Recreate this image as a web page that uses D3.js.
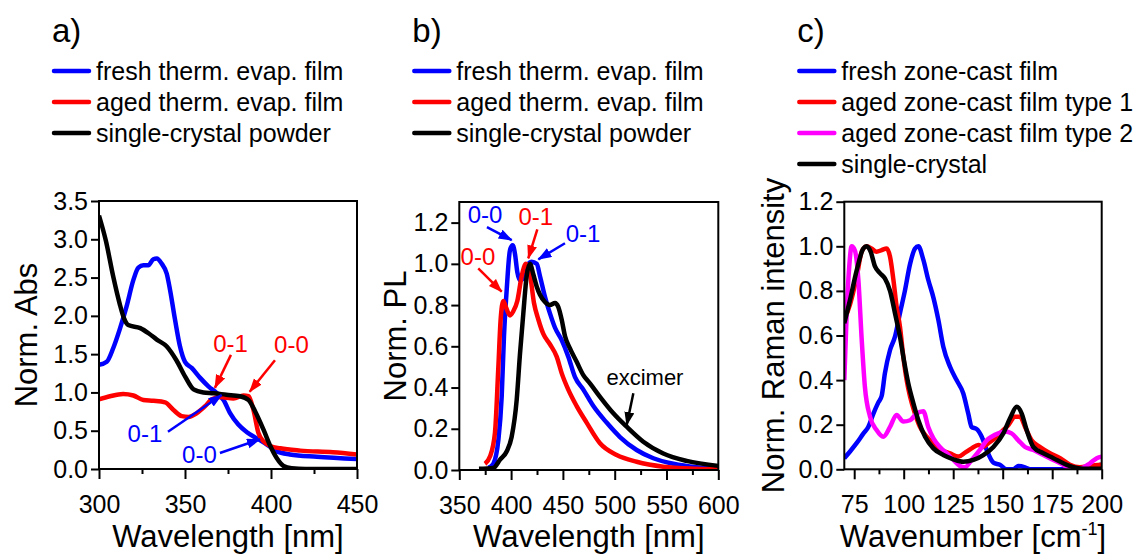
<!DOCTYPE html>
<html>
<head>
<meta charset="utf-8">
<script src="https://cdn.jsdelivr.net/npm/d3@7"></script>
<style>
  body { margin: 0; background: #fff; }
  svg { display: block; font-family: "Liberation Sans", Arial, sans-serif; }
  .tick text { font-size: 25px; fill: #000; }
  .tick line { stroke: #000; stroke-width: 2px; }
</style>
</head>
<body>
<div id="chart"></div>
<script>
// ---- data ----
// panel a: absorption, [wavelength nm, norm. abs]
let absFresh = [[300,1.36],[304.5,1.40],[308.3,1.58],[312,1.82],[316,2.12],[320,2.47],[322.9,2.63],[325.8,2.66],[328.7,2.66],[331.6,2.74],[333.6,2.75],[336.5,2.68],[339.4,2.55],[341.3,2.34],[344.2,1.95],[347.1,1.60],[350,1.40],[353.9,1.32],[358.8,1.19],[363.6,1.08],[368.5,0.99],[372.4,0.90],[376.2,0.73],[381,0.58],[386,0.48],[391.8,0.40],[397.6,0.32],[403.4,0.23],[411,0.19],[426.7,0.16],[450,0.13]]
let absAged = [[300,0.91],[306.4,0.95],[314,0.98],[320,0.96],[325.8,0.90],[331.6,0.89],[338.4,0.87],[343.3,0.77],[348.1,0.69],[352,0.68],[356.9,0.73],[361.7,0.82],[365.6,0.91],[370.4,0.94],[378.2,0.92],[384,0.96],[387,0.95],[389.8,0.77],[392.7,0.47],[395.7,0.36],[399.6,0.30],[405.4,0.27],[417,0.24],[436,0.22],[450,0.19]]
let absCrystal = [[300,3.31],[304,2.98],[308.3,2.51],[312,2.16],[314.5,1.97],[317,1.88],[324,1.84],[329,1.77],[333.6,1.69],[339.4,1.60],[345,1.42],[350,1.21],[355,1.04],[360.7,1.0],[366.5,0.99],[374,0.97],[382,0.95],[387,0.9],[390.8,0.75],[395.7,0.51],[399.6,0.30],[403.4,0.14],[407.3,0.04],[412,0.01],[420,0],[450,0]]

// panel b: photoluminescence, [wavelength nm, norm. PL]
let plFresh = [[378,0.01],[382.8,0.03],[387.7,0.145],[390.9,0.355],[393.1,0.646],[395.7,0.87],[398.9,1.066],[401.5,1.09],[403.7,1.05],[406,0.96],[408.6,0.92],[411.8,0.93],[415,0.985],[419.8,1.01],[424.7,1.0],[427.9,0.94],[432.7,0.84],[437.5,0.76],[442.4,0.69],[448.8,0.63],[455.2,0.55],[461.7,0.45],[469.7,0.39],[479.4,0.31],[492.2,0.23],[505.1,0.16],[521.2,0.097],[537.3,0.057],[556.6,0.03],[579,0.013],[600,0.006]]
let plAged = [[374.8,0.03],[379.6,0.065],[384.4,0.18],[387.7,0.5],[389.9,0.73],[392.5,0.82],[395,0.79],[398.9,0.75],[402.1,0.77],[406,0.82],[410.2,0.94],[414.4,1.0],[418.2,0.95],[422.1,0.81],[426.3,0.73],[431.1,0.66],[437.5,0.61],[444,0.55],[448.8,0.47],[455.2,0.39],[463.3,0.31],[472.9,0.23],[485.8,0.13],[501.9,0.073],[521.2,0.04],[546.9,0.016],[579,0.006],[600,0.003]]
let plCrystal = [[369,0.006],[382.8,0.01],[389.3,0.05],[395.7,0.09],[400.5,0.16],[405.4,0.34],[408.6,0.565],[411.8,0.76],[415,0.94],[418.2,1.0],[421.4,0.95],[424.7,0.89],[427.9,0.85],[432.7,0.815],[437.5,0.80],[442.4,0.81],[445.6,0.79],[448.8,0.73],[452,0.65],[456.8,0.59],[463.3,0.525],[469.7,0.46],[476.1,0.42],[485.8,0.355],[498.7,0.275],[511.5,0.21],[527.6,0.137],[546.9,0.08],[569.4,0.044],[600,0.02]]

// panel c: Raman, [wavenumber cm-1, norm. intensity]
let ramanFresh = [[70,0.05],[72.9,0.08],[76.2,0.117],[79.6,0.16],[82.1,0.19],[84.7,0.25],[87.2,0.30],[88.9,0.33],[90.5,0.43],[93.1,0.535],[95.6,0.595],[98.1,0.70],[100.6,0.80],[103.2,0.92],[105.7,0.99],[107.4,1.0],[109.9,0.94],[112.4,0.85],[115,0.77],[117.5,0.67],[120,0.55],[123.4,0.46],[126.7,0.40],[130.1,0.34],[132.6,0.25],[134.3,0.19],[136.9,0.18],[139.4,0.146],[141.9,0.087],[145.3,0.03],[148.6,0.02],[152,0],[155.4,0],[157.9,0.015],[161.3,0.009],[163.8,0],[175,0],[190,0],[197,0.005],[200,0.025]]
let ramanAged1 = [[70,0.67],[72.9,0.74],[76.2,0.86],[78.8,0.976],[81.3,1.0],[83.8,0.99],[86.3,0.976],[88.9,0.983],[91.4,0.99],[93.1,0.953],[94.8,0.85],[96.4,0.73],[98.1,0.64],[99.8,0.505],[101.5,0.40],[103.2,0.326],[105.7,0.25],[108.2,0.19],[111.6,0.146],[115,0.117],[118.3,0.09],[123.4,0.072],[127.6,0.057],[131,0.075],[134.3,0.094],[137.7,0.109],[140.2,0.10],[142.7,0.117],[146.1,0.139],[149.5,0.169],[152.9,0.199],[156.2,0.236],[158.7,0.236],[161.3,0.19],[164.6,0.13],[168.9,0.10],[173.9,0.072],[179,0.05],[184,0.02],[189,0.009],[194.1,0.015],[200,0.02]]
let ramanAged2 = [[70,0.40],[71.2,0.70],[72.5,0.91],[73.7,1.0],[75.4,0.98],[77.1,0.85],[78.8,0.58],[80.4,0.37],[83,0.236],[86.3,0.176],[89.7,0.146],[93.1,0.19],[96.4,0.244],[99.8,0.214],[103.2,0.22],[106.5,0.25],[109.9,0.26],[112.4,0.19],[115,0.139],[118.3,0.10],[121.7,0.072],[125.1,0.042],[128.4,0.015],[131,0.009],[134.3,0.042],[138.5,0.087],[141.9,0.13],[144.4,0.146],[147.8,0.161],[151.2,0.169],[154.5,0.161],[157.9,0.13],[161.3,0.10],[165.5,0.087],[170.5,0.064],[175.6,0.042],[180.6,0.02],[185.7,0],[189.9,0.005],[194.1,0.027],[197.5,0.05],[200,0.057]]
let ramanCrystal = [[70,0.655],[72.9,0.76],[76.2,0.89],[79.6,0.99],[81.3,1.0],[83.3,0.976],[85.5,0.91],[88,0.88],[90.5,0.856],[93.1,0.80],[95.6,0.70],[98.1,0.595],[100.1,0.49],[102.3,0.386],[104.9,0.296],[107.4,0.22],[110.8,0.146],[115,0.094],[120,0.064],[125.1,0.045],[130.1,0.034],[135.2,0.042],[140.2,0.064],[145.3,0.10],[150.3,0.161],[153.7,0.229],[157.1,0.28],[159.6,0.25],[162.1,0.176],[165.5,0.10],[170.5,0.072],[175.6,0.05],[180.6,0.027],[185.7,0.009],[190.7,0.003],[200,0.003]]

// tick labels
let absXTicks = [300, 350, 400, 450]
let absXMinor = [325, 375, 425]
let absYTicks = [0, 0.5, 1.0, 1.5, 2.0, 2.5, 3.0, 3.5]
let plXTicks = [350, 400, 450, 500, 550, 600]
let plXMinor = [375, 425, 475, 525, 575]
let plYTicks = [0, 0.2, 0.4, 0.6, 0.8, 1.0, 1.2]
let ramanXTicks = [75, 100, 125, 150, 175, 200]
let ramanXMinor = [87.5, 112.5, 137.5, 162.5, 187.5]
let ramanYTicks = [0, 0.2, 0.4, 0.6, 0.8, 1.0, 1.2]

// legend entries
let absNames = ['fresh therm. evap. film', 'aged therm. evap. film', 'single-crystal powder']
let plNames = ['fresh therm. evap. film', 'aged therm. evap. film', 'single-crystal powder']
let ramanNames = ['fresh zone-cast film', 'aged zone-cast film type 1', 'aged zone-cast film type 2', 'single-crystal']

// peak labels: text pos + arrow from/to, all in data units
let absNotes = [
  {t: '0-1', c: 'red',  tx: 376.5, ty: 1.53, x1: 376.7, y1: 1.49, x2: 367.4, y2: 1.06},
  {t: '0-0', c: 'red',  tx: 411.9, ty: 1.515, x1: 402.3, y1: 1.42, x2: 387.6, y2: 1.01},
  {t: '0-1', c: 'blue', tx: 326.7, ty: 0.357, x1: 340.1, y1: 0.487, x2: 371.3, y2: 0.966},
  {t: '0-0', c: 'blue', tx: 358.4, ty: 0.078, x1: 370.3, y1: 0.209, x2: 393.6, y2: 0.388}
]
let plNotes = [
  {t: '0-0', c: 'blue', tx: 374.8, ty: 1.196, x1: 376.7, y1: 1.178, x2: 400.6, y2: 1.115},
  {t: '0-1', c: 'red',  tx: 423.8, ty: 1.188, x1: 425.3, y1: 1.167, x2: 416.6, y2: 1.027},
  {t: '0-1', c: 'blue', tx: 469.4, ty: 1.107, x1: 452, y1: 1.10, x2: 426.3, y2: 1.022},
  {t: '0-0', c: 'red',  tx: 368, ty: 0.994, x1: 368.3, y1: 0.978, x2: 390.9, y2: 0.865},
  {t: 'excimer', c: 'black', tx: 529.2, ty: 0.412, x1: 518, y1: 0.372, x2: 511.6, y2: 0.218, small: true}
]

let width = 1136, height = 556

let svg = d3.select('#chart').append('svg')
  .attr('width', width)
  .attr('height', height)

let defs = svg.append('defs')
;['red', 'blue', 'black'].forEach(function(c) {
  defs.append('marker')
    .attr('id', 'arrow-' + c)
    .attr('markerUnits', 'userSpaceOnUse')
    .attr('markerWidth', 14).attr('markerHeight', 12)
    .attr('refX', 13).attr('refY', 5)
    .attr('orient', 'auto')
    .append('path')
    .attr('d', 'M0,0 L14,5 L0,10 Z')
    .attr('fill', c)
})

const drawPanel = function(p) {
  let x = d3.scaleLinear().domain(p.xDomain).range([p.left, p.right])
  let y = d3.scaleLinear().domain(p.yDomain).range([p.bottom, p.top])

  let g = svg.append('g')

  // panel letter
  g.append('text')
    .attr('x', p.left - 47).attr('y', 42)
    .attr('font-size', '33px')
    .text(p.letter)

  // legend
  let leg = g.selectAll('.leg').data(p.names).enter().append('g')
  leg.append('line')
    .attr('x1', p.left - 45).attr('x2', p.left - 10)
    .attr('y1', (d, i) => 71 + i * 31).attr('y2', (d, i) => 71 + i * 31)
    .attr('stroke', (d, i) => p.colors[i])
    .attr('stroke-width', 4.5)
    .attr('stroke-linecap', 'round')
  leg.append('text')
    .attr('x', p.left - 3)
    .attr('y', (d, i) => 80 + i * 31)
    .attr('font-size', '25px')
    .text(d => d)

  // axes
  let xAxis = d3.axisBottom(x).tickValues(p.xTicks).tickSize(10).tickPadding(16).tickFormat(d3.format('d'))
  let xMinor = d3.axisBottom(x).tickValues(p.xMinor).tickSize(5).tickFormat('')
  let yAxis = d3.axisLeft(y).tickValues(p.yTicks).tickSize(8).tickPadding(3).tickFormat(d3.format('.1f'))

  g.append('g').attr('transform', 'translate(0,' + p.bottom + ')').call(xAxis)
    .call(s => s.select('.domain').remove())
  g.append('g').attr('transform', 'translate(0,' + p.bottom + ')').call(xMinor)
    .call(s => s.select('.domain').remove())
  g.append('g').attr('transform', 'translate(' + p.left + ',0)').call(yAxis)
    .call(s => s.select('.domain').remove())

  // curves
  let clipId = 'clip-' + p.letter[0]
  defs.append('clipPath').attr('id', clipId)
    .append('rect')
    .attr('x', p.left).attr('y', p.top)
    .attr('width', p.right - p.left).attr('height', p.bottom - p.top)

  let line = d3.line()
    .x(d => x(d[0]))
    .y(d => y(d[1]))
    .curve(d3.curveMonotoneX)

  g.append('g').attr('clip-path', 'url(#' + clipId + ')')
    .selectAll('path')
    .data(p.order)
    .enter().append('path')
    .attr('d', i => line(p.series[i]))
    .attr('fill', 'none')
    .attr('stroke', i => p.colors[i])
    .attr('stroke-width', 4.5)
    .attr('stroke-linejoin', 'round')

  // frame
  g.append('rect')
    .attr('x', p.left).attr('y', p.top)
    .attr('width', p.right - p.left).attr('height', p.bottom - p.top)
    .attr('fill', 'none')
    .attr('stroke', '#000')
    .attr('stroke-width', 2)

  // annotations
  let notes = g.selectAll('.note').data(p.notes || []).enter().append('g')
  notes.append('text')
    .attr('x', d => x(d.tx)).attr('y', d => y(d.ty))
    .attr('text-anchor', 'middle')
    .attr('font-size', d => d.small ? '22px' : '24px')
    .attr('fill', d => d.c)
    .text(d => d.t)
  notes.append('line')
    .attr('x1', d => x(d.x1)).attr('y1', d => y(d.y1))
    .attr('x2', d => x(d.x2)).attr('y2', d => y(d.y2))
    .attr('stroke', d => d.c)
    .attr('stroke-width', 2.5)
    .attr('marker-end', d => 'url(#arrow-' + d.c + ')')

  // axis titles
  let xt = g.append('text')
    .attr('x', (p.left + p.right) / 2).attr('y', 547)
    .attr('text-anchor', 'middle')
    .attr('font-size', '31px')
  if (p.xSup) {
    xt.append('tspan').text(p.xTitle)
    xt.append('tspan').attr('dy', -12).attr('font-size', '18px').text(p.xSup)
    xt.append('tspan').attr('dy', 12).text(']')
  } else {
    xt.text(p.xTitle)
  }

  g.append('text')
    .attr('transform', 'translate(' + p.yTitleX + ',' + (p.top + p.bottom) / 2 + ') rotate(-90)')
    .attr('text-anchor', 'middle')
    .attr('font-size', '31px')
    .text(p.yTitle)
}

drawPanel({
  letter: 'a)', left: 99, right: 357, top: 201, bottom: 469,
  xDomain: [300, 450], yDomain: [0, 3.5],
  xTicks: absXTicks, xMinor: absXMinor, yTicks: absYTicks,
  names: absNames, colors: ['blue', 'red', 'black'],
  series: [absFresh, absAged, absCrystal], order: [0, 1, 2],
  notes: absNotes,
  xTitle: 'Wavelength [nm]', yTitle: 'Norm. Abs', yTitleX: 37
})

drawPanel({
  letter: 'b)', left: 459.3, right: 718.3, top: 202, bottom: 470,
  xDomain: [350, 600], yDomain: [0, 1.3],
  xTicks: plXTicks, xMinor: plXMinor, yTicks: plYTicks,
  names: plNames, colors: ['blue', 'red', 'black'],
  series: [plFresh, plAged, plCrystal], order: [0, 1, 2],
  notes: plNotes,
  xTitle: 'Wavelength [nm]', yTitle: 'Norm. PL', yTitleX: 406
})

drawPanel({
  letter: 'c)', left: 844.3, right: 1101.7, top: 201.7, bottom: 469.3,
  xDomain: [70, 200], yDomain: [0, 1.2],
  xTicks: ramanXTicks, xMinor: ramanXMinor, yTicks: ramanYTicks,
  names: ramanNames, colors: ['blue', 'red', '#ff00ff', 'black'],
  series: [ramanFresh, ramanAged1, ramanAged2, ramanCrystal], order: [0, 1, 2, 3],
  xTitle: 'Wavenumber [cm', xSup: '-1', yTitle: 'Norm. Raman intensity', yTitleX: 784
})
</script>
</body>
</html>
